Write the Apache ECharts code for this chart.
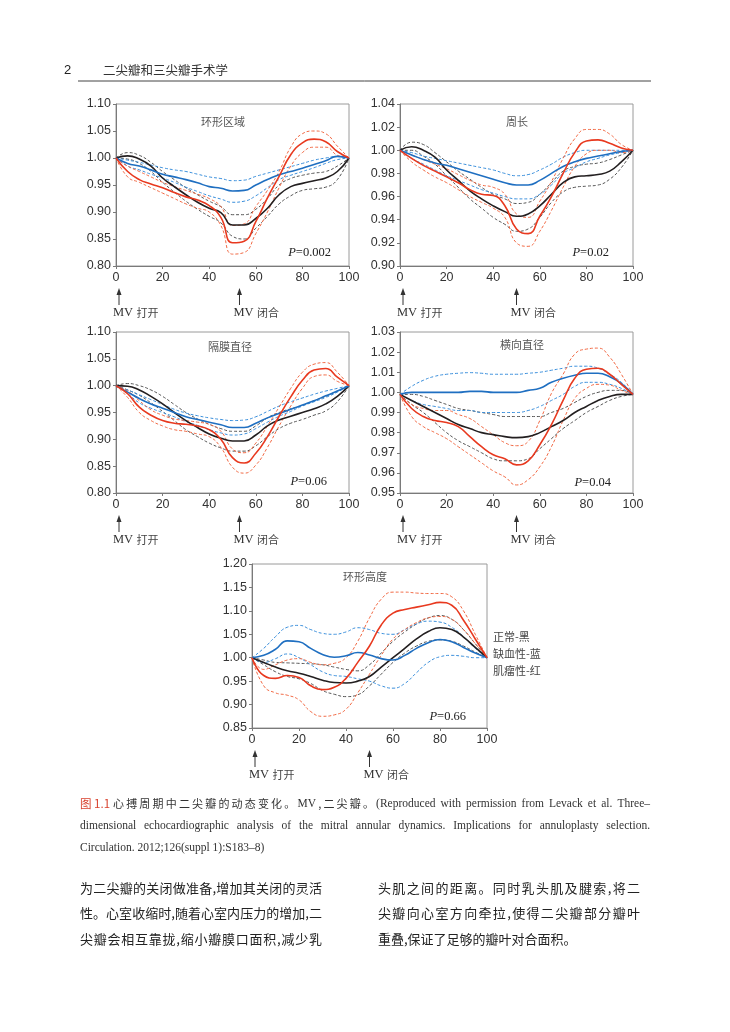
<!DOCTYPE html>
<html><head><meta charset="utf-8">
<script src="https://cdn.jsdelivr.net/npm/echarts/dist/echarts.min.js"></script>
<style>html,body{margin:0;padding:0;background:#fff}#c{width:730px;height:1032px}</style>
</head><body><div id="c"></div><script>
// ---------- data ----------
const X = [0,5,10,15,20,25,30,35,40,45,50,55,60,65,70,75,80,85,90,95,100];
const xTicks = [0,20,40,60,80,100];
const titles = ['环形区域','周长','隔膜直径','横向直径','环形高度'];
const pValues = ['0.002','0.02','0.06','0.04','0.66'];
const yMin = [0.80,0.90,0.80,0.95,0.85];
const yMax = [1.10,1.04,1.10,1.03,1.20];
const yStep = [0.05,0.02,0.05,0.01,0.05];
const mvOpen = [0,0,0,0,0];
const mvClose = [53,50,53,50,50];
const mvLabels = ['MV 打开','MV 闭合'];
const legendLabels = ['正常-黑','缺血性-蓝','肌瘤性-红'];

// 环形区域
const c1Black   = [1.000,1.004,0.998,0.985,0.963,0.947,0.932,0.918,0.907,0.899,0.876,0.876,0.888,0.907,0.932,0.947,0.953,0.958,0.963,0.975,1.000];
const c1BlackHi = [1.000,1.010,1.005,0.992,0.975,0.960,0.945,0.932,0.920,0.910,0.895,0.895,0.905,0.925,0.950,0.962,0.968,0.972,0.975,0.985,1.000];
const c1BlackLo = [1.000,0.998,0.990,0.975,0.955,0.937,0.920,0.905,0.892,0.880,0.855,0.850,0.870,0.892,0.915,0.930,0.940,0.943,0.946,0.960,1.000];
const c1Blue    = [1.000,0.990,0.985,0.978,0.970,0.965,0.960,0.954,0.947,0.944,0.939,0.940,0.950,0.960,0.969,0.975,0.981,0.988,0.995,1.003,1.000];
const c1BlueHi  = [1.000,0.996,0.992,0.987,0.982,0.978,0.975,0.970,0.965,0.962,0.958,0.959,0.966,0.972,0.978,0.984,0.990,0.996,1.000,1.003,1.000];
const c1BlueLo  = [1.000,0.985,0.978,0.970,0.963,0.955,0.946,0.938,0.930,0.924,0.918,0.920,0.930,0.945,0.960,0.968,0.975,0.982,0.990,0.997,1.000];
const c1Red     = [1.000,0.975,0.960,0.952,0.945,0.936,0.928,0.922,0.912,0.890,0.843,0.846,0.882,0.926,0.966,1.006,1.028,1.035,1.030,1.012,1.000];
const c1RedHi   = [1.000,0.985,0.975,0.965,0.955,0.947,0.940,0.933,0.925,0.910,0.875,0.878,0.910,0.940,0.975,1.020,1.045,1.050,1.045,1.022,1.000];
const c1RedLo   = [1.000,0.965,0.955,0.945,0.935,0.925,0.915,0.907,0.900,0.875,0.822,0.825,0.860,0.900,0.945,0.985,1.010,1.020,1.020,1.005,1.000];
// 周长
const c2Black   = [1.000,1.003,1.000,0.994,0.983,0.974,0.965,0.958,0.952,0.947,0.943,0.945,0.952,0.962,0.972,0.977,0.978,0.979,0.982,0.990,1.000];
const c2BlackHi = [1.000,1.007,1.005,0.998,0.990,0.982,0.975,0.968,0.962,0.958,0.954,0.955,0.962,0.972,0.982,0.986,0.988,0.989,0.992,0.996,1.000];
const c2BlackLo = [1.000,1.000,0.995,0.988,0.978,0.968,0.958,0.950,0.942,0.936,0.930,0.932,0.942,0.955,0.964,0.968,0.969,0.970,0.975,0.985,1.000];
const c2Blue    = [1.000,0.996,0.992,0.989,0.987,0.984,0.981,0.978,0.975,0.972,0.970,0.970,0.974,0.980,0.986,0.990,0.993,0.995,0.997,0.999,1.000];
const c2BlueHi  = [1.000,0.998,0.995,0.993,0.991,0.989,0.987,0.985,0.983,0.980,0.978,0.979,0.983,0.988,0.994,0.998,1.000,1.000,1.000,1.000,1.000];
const c2BlueLo  = [1.000,0.993,0.988,0.983,0.978,0.974,0.970,0.966,0.963,0.960,0.958,0.958,0.962,0.970,0.980,0.985,0.990,0.993,0.996,0.998,1.000];
const c2Red     = [1.000,0.993,0.987,0.982,0.977,0.972,0.966,0.962,0.961,0.952,0.932,0.928,0.943,0.960,0.980,0.998,1.008,1.009,1.006,1.002,1.000];
const c2RedHi   = [1.000,0.996,0.992,0.988,0.984,0.979,0.974,0.970,0.968,0.962,0.945,0.942,0.956,0.973,0.993,1.010,1.018,1.018,1.014,1.005,1.000];
const c2RedLo   = [1.000,0.990,0.983,0.977,0.972,0.966,0.960,0.955,0.950,0.942,0.920,0.917,0.930,0.948,0.968,0.986,0.997,1.000,1.000,0.998,1.000];
// 隔膜直径
const c3Black   = [1.000,0.999,0.992,0.980,0.966,0.950,0.935,0.922,0.910,0.902,0.897,0.897,0.908,0.925,0.936,0.943,0.950,0.957,0.966,0.980,1.000];
const c3BlackHi = [1.000,1.004,1.000,0.992,0.980,0.965,0.950,0.938,0.928,0.920,0.915,0.915,0.925,0.940,0.950,0.957,0.963,0.972,0.980,0.990,1.000];
const c3BlackLo = [1.000,0.992,0.982,0.968,0.952,0.935,0.918,0.905,0.893,0.884,0.878,0.878,0.888,0.905,0.920,0.930,0.937,0.945,0.953,0.970,1.000];
const c3Blue    = [1.000,0.988,0.976,0.966,0.958,0.950,0.942,0.937,0.932,0.927,0.922,0.922,0.930,0.940,0.948,0.956,0.964,0.972,0.981,0.990,1.000];
const c3BlueHi  = [1.000,0.992,0.983,0.974,0.965,0.956,0.949,0.944,0.940,0.937,0.935,0.936,0.942,0.952,0.962,0.970,0.977,0.984,0.990,0.995,1.000];
const c3BlueLo  = [1.000,0.985,0.968,0.958,0.950,0.942,0.933,0.926,0.918,0.912,0.908,0.910,0.920,0.932,0.943,0.952,0.962,0.970,0.978,0.988,1.000];
const c3Red     = [1.000,0.985,0.960,0.945,0.935,0.930,0.928,0.925,0.918,0.900,0.866,0.856,0.874,0.905,0.943,0.979,1.010,1.029,1.032,1.016,1.000];
const c3RedHi   = [1.000,0.990,0.972,0.955,0.945,0.938,0.935,0.932,0.928,0.915,0.882,0.875,0.893,0.925,0.960,0.995,1.025,1.040,1.043,1.025,1.000];
const c3RedLo   = [1.000,0.978,0.950,0.935,0.925,0.918,0.915,0.910,0.905,0.885,0.848,0.837,0.852,0.885,0.925,0.962,0.995,1.017,1.020,1.008,1.000];
// 横向直径
const c4Black   = [0.999,0.996,0.993,0.990,0.987,0.984,0.982,0.980,0.979,0.978,0.9775,0.978,0.980,0.983,0.986,0.990,0.993,0.996,0.998,0.999,0.999];
const c4BlackHi = [0.999,0.999,0.998,0.996,0.994,0.992,0.991,0.990,0.989,0.988,0.988,0.988,0.988,0.990,0.992,0.995,0.998,1.000,1.001,1.001,0.999];
const c4BlackLo = [0.999,0.994,0.990,0.985,0.980,0.976,0.973,0.970,0.967,0.966,0.966,0.967,0.972,0.977,0.982,0.986,0.990,0.993,0.996,0.998,0.999];
const c4Blue    = [0.999,1.000,1.000,1.000,1.000,1.000,1.0005,1.0005,1.000,1.000,1.000,1.001,1.002,1.005,1.007,1.0085,1.0095,1.0095,1.0078,1.0044,0.999];
const c4BlueHi  = [0.999,1.003,1.006,1.008,1.009,1.0095,1.0098,1.0095,1.009,1.009,1.009,1.0095,1.010,1.011,1.012,1.013,1.013,1.012,1.009,1.005,0.999];
const c4BlueLo  = [0.999,0.996,0.994,0.993,0.992,0.991,0.991,0.990,0.990,0.990,0.990,0.991,0.993,0.996,0.999,1.003,1.005,1.005,1.004,1.002,0.999];
const c4Red     = [0.999,0.992,0.988,0.986,0.985,0.983,0.978,0.973,0.969,0.967,0.964,0.966,0.974,0.984,0.996,1.007,1.0115,1.012,1.009,1.004,0.999];
const c4RedHi   = [0.999,0.994,0.992,0.991,0.991,0.989,0.987,0.983,0.979,0.975,0.9735,0.9756,0.986,0.9995,1.009,1.019,1.0215,1.022,1.0175,1.009,0.999];
const c4RedLo   = [0.999,0.988,0.983,0.980,0.977,0.973,0.969,0.965,0.961,0.958,0.954,0.9566,0.963,0.973,0.986,0.997,1.002,1.004,1.0036,1.001,0.999];
// 环形高度
const c5Black   = [1.000,0.990,0.980,0.972,0.967,0.960,0.952,0.947,0.946,0.950,0.960,0.980,1.000,1.020,1.040,1.056,1.064,1.060,1.044,1.022,1.000];
const c5BlackHi = [1.000,0.995,0.990,0.989,0.988,0.987,0.985,0.980,0.975,0.972,0.985,1.010,1.035,1.055,1.072,1.085,1.090,1.082,1.060,1.030,1.000];
const c5BlackLo = [1.000,0.985,0.970,0.960,0.955,0.945,0.930,0.922,0.917,0.921,0.940,0.965,0.990,1.010,1.025,1.035,1.038,1.035,1.025,1.012,1.000];
const c5Blue    = [1.000,1.005,1.018,1.036,1.034,1.020,1.007,1.001,1.004,1.011,1.006,0.998,0.995,1.005,1.020,1.032,1.039,1.034,1.022,1.010,1.000];
const c5BlueHi  = [1.000,1.020,1.045,1.065,1.069,1.060,1.052,1.050,1.055,1.064,1.060,1.052,1.050,1.060,1.072,1.078,1.076,1.065,1.045,1.020,1.000];
const c5BlueLo  = [1.000,0.990,0.998,1.008,1.000,0.985,0.970,0.962,0.960,0.955,0.950,0.940,0.935,0.945,0.968,0.990,1.002,1.005,1.003,1.000,1.000];
const c5Red     = [1.000,0.962,0.956,0.962,0.958,0.940,0.932,0.937,0.956,0.990,1.025,1.070,1.095,1.103,1.108,1.113,1.118,1.112,1.080,1.040,1.000];
const c5RedHi   = [1.000,0.975,0.985,0.995,0.998,0.990,0.985,0.988,1.000,1.035,1.085,1.125,1.140,1.140,1.138,1.137,1.137,1.130,1.100,1.050,1.000];
const c5RedLo   = [1.000,0.940,0.925,0.920,0.910,0.885,0.875,0.878,0.890,0.925,0.965,1.005,1.040,1.060,1.075,1.085,1.088,1.082,1.060,1.030,1.000];

const panels = [
  [c1Black,c1BlackHi,c1BlackLo,c1Blue,c1BlueHi,c1BlueLo,c1Red,c1RedHi,c1RedLo],
  [c2Black,c2BlackHi,c2BlackLo,c2Blue,c2BlueHi,c2BlueLo,c2Red,c2RedHi,c2RedLo],
  [c3Black,c3BlackHi,c3BlackLo,c3Blue,c3BlueHi,c3BlueLo,c3Red,c3RedHi,c3RedLo],
  [c4Black,c4BlackHi,c4BlackLo,c4Blue,c4BlueHi,c4BlueLo,c4Red,c4RedHi,c4RedLo],
  [c5Black,c5BlackHi,c5BlackLo,c5Blue,c5BlueHi,c5BlueLo,c5Red,c5RedHi,c5RedLo]
];

// text content
const headerNum = '2';
const headerTitle = '二尖瓣和三尖瓣手术学';
const figLabel = '图 1.1';
const captionL1 = [['心搏周期中二尖瓣的动态变化。','c'],['MV','e'],[',二尖瓣。','c'],['(Reproduced with permission from Levack et al. Three–','e']];
const captionL2 = 'dimensional echocardiographic analysis of the mitral annular dynamics. Implications for annuloplasty selection.';
const captionL3 = 'Circulation. 2012;126(suppl 1):S183–8)';
const bodyLeft = ['为二尖瓣的关闭做准备,增加其关闭的灵活','性。心室收缩时,随着心室内压力的增加,二','尖瓣会相互靠拢,缩小瓣膜口面积,减少乳'];
const bodyRight = ['头肌之间的距离。同时乳头肌及腱索,将二','尖瓣向心室方向牵拉,使得二尖瓣部分瓣叶','重叠,保证了足够的瓣叶对合面积。'];

// ---------- layout / style ----------
const GRIDS = [
  {left:116, top:104, width:233, height:162},
  {left:400, top:104, width:233, height:162},
  {left:116, top:332, width:233, height:161},
  {left:400, top:332, width:233, height:161},
  {left:252, top:564, width:235, height:164}
];
const TITLE_POS = [[223,122],[517,122],[230,347],[522,345],[365,577]];
const P_POS = [[331,253],[609,253],[327,482],[611,483],[466,717]];
const SOLID = ['#231f20','#1f6fc1','#e8391f'];
const DASH  = ['#555555','#3a8fdc','#f26a45'];
const AX = '#7a7a7a';
const BORDER = '#9a9a9a';
const CJK = '"Noto Sans CJK SC", sans-serif';
const SERIF = '"Liberation Serif", "DejaVu Serif", serif';
const SANS = '"Liberation Sans", Arial, sans-serif';

const chart = echarts.init(document.getElementById('c'), null, {renderer:'canvas'});

const grid = GRIDS.map(g => Object.assign({show:true, borderColor:BORDER, borderWidth:1, containLabel:false}, g));
const xAxis = GRIDS.map((g,i) => ({
  gridIndex:i, type:'value', min:xTicks[0], max:xTicks[xTicks.length-1], interval:xTicks[1]-xTicks[0],
  axisLine:{show:true, lineStyle:{color:AX, width:1}},
  axisTick:{show:true, length:3, lineStyle:{color:AX}},
  axisLabel:{fontSize:12.5, color:'#333', margin:5, fontFamily:SANS},
  splitLine:{show:false}
}));
const yAxis = GRIDS.map((g,i) => ({
  gridIndex:i, type:'value', min:yMin[i], max:yMax[i], interval:yStep[i],
  axisLine:{show:true, lineStyle:{color:AX, width:1}},
  axisTick:{show:true, length:3, lineStyle:{color:AX}},
  axisLabel:{fontSize:12.5, color:'#333', margin:5, fontFamily:SANS, formatter:v=>v.toFixed(2)},
  splitLine:{show:false}
}));

const series = [];
panels.forEach((arrs,i) => {
  for (let g=0; g<3; g++) {
    [arrs[g*3+1], arrs[g*3+2]].forEach(a => series.push({
      type:'line', xAxisIndex:i, yAxisIndex:i, smooth:0.5, symbol:'none', silent:true, z:2,
      data:X.map((x,j)=>[x,a[j]]), lineStyle:{color:DASH[g], width:1, type:[3,2]}
    }));
  }
  for (let g=0; g<3; g++) {
    const a = arrs[g*3];
    series.push({
      type:'line', xAxisIndex:i, yAxisIndex:i, smooth:0.5, symbol:'none', silent:true, z:3+g,
      data:X.map((x,j)=>[x,a[j]]), lineStyle:{color:SOLID[g], width:1.6}
    });
  }
});

chart.setOption({animation:false, backgroundColor:'#fff', grid, xAxis, yAxis, series});

// ---------- annotations ----------
const gr = [];
const ctx = document.createElement('canvas').getContext('2d');
function measure(t, font){ ctx.font = font; return ctx.measureText(t).width; }
function txt(x,y,text,opt){
  gr.push({type:'text', x:x, y:y, z:20, style:Object.assign({text:text, fill:'#333', textAlign:'left', textVerticalAlign:'middle', verticalAlign:'middle'}, opt||{})});
}
// segments: [{t, font, fill}] with breakpoints between them; spread them to fill [x0, x1]
function justify(x0, x1, y, segs){
  const ws = segs.map(s => measure(s.t, s.font));
  const total = ws.reduce((a,b)=>a+b,0);
  const extra = segs.length>1 ? Math.max(0,(x1-x0-total))/(segs.length-1) : 0;
  let x = x0;
  segs.forEach((s,k)=>{ txt(x, y, s.t, {font:s.font, fill:s.fill}); x += ws[k] + extra; });
}
function cjkSegs(str, font, fill){ return Array.from(str).map(c=>({t:c, font, fill})); }
function enSegs(str, font, fill){
  const w = str.split(' ');
  return w.map((s,k)=>({t: k<w.length-1 ? s+' ' : s, font, fill}));
}

// header
txt(64,70,headerNum,{font:'13px '+SANS, fill:'#222'});
txt(103,70,headerTitle,{font:'12.5px '+CJK, fill:'#333'});
gr.push({type:'line', z:20, shape:{x1:78,y1:81,x2:651,y2:81}, style:{stroke:'#444', lineWidth:1}});

GRIDS.forEach((g,i) => {
  txt(TITLE_POS[i][0], TITLE_POS[i][1], titles[i], {font:'11px '+CJK, fill:'#555', textAlign:'center'});
  txt(P_POS[i][0], P_POS[i][1], '{i|P}{n|='+pValues[i]+'}', {textAlign:'right',
    rich:{i:{fontStyle:'italic', fontFamily:SERIF, fontSize:12.5, fill:'#222'}, n:{fontFamily:SERIF, fontSize:12.5, fill:'#222'}}});
  const bottom = g.top + g.height;
  [mvOpen[i], mvClose[i]].forEach((xv,k) => {
    const px = chart.convertToPixel({xAxisIndex:i}, xv) + (k===0 ? 3 : 0);
    gr.push({type:'line', z:20, shape:{x1:px, y1:bottom+26, x2:px, y2:bottom+39}, style:{stroke:'#333', lineWidth:1}});
    gr.push({type:'polygon', z:20, shape:{points:[[px,bottom+22],[px-2.5,bottom+29],[px+2.5,bottom+29]]}, style:{fill:'#333'}});
    const lab = mvLabels[k].split(' ');
    txt(px-6, bottom+47, '{a|'+lab[0]+'} {b|'+lab[1]+'}', {rich:{a:{fontFamily:SERIF, fontSize:12.5, fill:'#333'}, b:{fontFamily:CJK, fontSize:11, fill:'#444'}}});
  });
});
// legend text for 环形高度
legendLabels.forEach((t,k) => txt(493, 637 + k*17, t, {font:'11px '+CJK, fill:'#444'}));

// caption
const capCJK = '11px '+CJK, capEN = '11.5px '+SERIF;
txt(80,804,figLabel,{font:'11.5px '+CJK, fill:'#d8422e'});
let seg1 = [];
captionL1.forEach(([s,kind]) => { seg1 = seg1.concat(kind==='c' ? cjkSegs(s, capCJK, '#333') : enSegs(s, capEN, '#333')); });
justify(113, 650, 804, seg1);
justify(80, 650, 826, enSegs(captionL2, capEN, '#333'));
txt(80,848,captionL3,{font:capEN, fill:'#333'});

// body text (justified columns)
const bodyFont = '13px '+CJK;
bodyLeft.forEach((t,k)=>justify(80, 322, 888+k*25.5, cjkSegs(t, bodyFont, '#222')));
bodyRight.forEach((t,k)=>{
  if (k < bodyRight.length-1) justify(378, 640, 888+k*25.5, cjkSegs(t, bodyFont, '#222'));
  else txt(378, 888+k*25.5, t, {font:bodyFont, fill:'#222'});
});

chart.setOption({graphic: gr});
</script></body></html>
